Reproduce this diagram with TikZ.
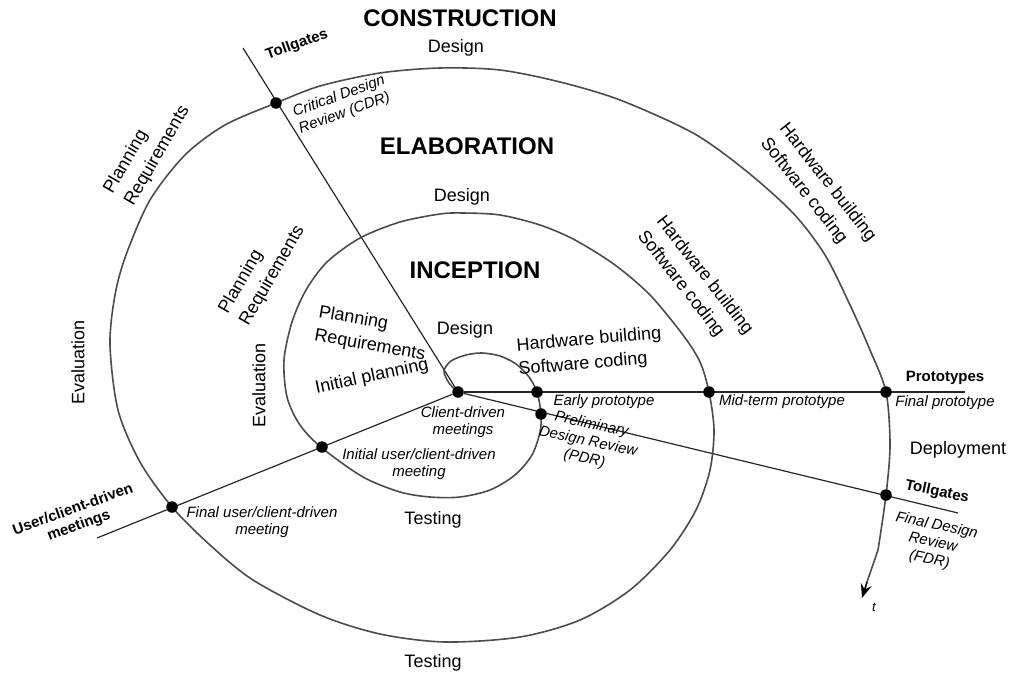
\documentclass[tikz,border=0pt]{standalone}
\usepackage{fontspec}
\setmainfont{Liberation Sans}
\usetikzlibrary{arrows.meta,backgrounds}
\tikzset{
  lab/.style={font=\fontsize{18}{24}\selectfont, inner sep=0pt},
  ttl/.style={font=\bfseries\fontsize{24}{28}\selectfont, inner sep=0pt},
  blab/.style={font=\bfseries\fontsize{15}{17}\selectfont, inner sep=0pt},
  ilab/.style={font=\itshape\fontsize{15}{17.5}\selectfont, inner sep=0pt},
  dot/.style={circle, fill=black, inner sep=0pt, minimum size=11.5pt},
  ln/.style={line width=1.2pt, black!85},
  sp/.style={line width=1.6pt, black!70},
}
\begin{document}
\begin{tikzpicture}[x=1pt,y=-1pt]
\useasboundingbox (0,0) rectangle (1011,677);
% dots
\node[dot] (c) at (458,392) {};
\node[dot] (cdr) at (276,103) {};
\node[dot] (ep) at (537,392) {};
\node[dot] (pdr) at (541,414) {};
\node[dot] (iu) at (322,447) {};
\node[dot] (mt) at (709,392) {};
\node[dot] (fu) at (172,507) {};
\node[dot] (fp) at (886,392) {};
\node[dot] (fdr) at (886,495) {};
\coordinate (tgA) at (243,48);
\coordinate (prE) at (965,392);
\coordinate (tgB) at (958,513);
\coordinate (ucE) at (97,538);
\coordinate (tend) at (862,598);
\begin{pgfonlayer}{background}
\draw[ln] (c) -- (tgA);
\draw[ln] (c) -- (prE);
\draw[ln] (c) -- (tgB);
\draw[ln] (c) -- (ucE);
\draw[sp] plot[smooth, tension=0.5] coordinates {
(458,392) (449,383) (444,371) (451,361) (466,355) (482,353) (500,356) (516,364) (529,377) (537,392)
(541,414) (540,432) (532,455) (515,475) (490,490) (460,497) (430,497) (400,492) (363,477) (322,448)
(300,425) (287,397) (284,360) (292,322) (306,290) (327,262) (360,238) (400,222) (440,214) (463,213)
(500,215) (540,225) (575,240) (615,265) (650,295) (683,335) (700,362) (709,392) (714,430) (710,470)
(696,510) (670,550) (630,590) (580,620) (520,637) (445,642) (380,634) (320,615) (253,580) (210,545)
(172,507) (140,462) (118,410) (110,345) (115,295) (126,255) (150,200) (185,155) (225,125) (276,103)
(320,86) (380,73) (440,68) (500,70) (560,82) (620,100) (693,133) (745,170) (793,213) (825,255)
(850,305) (870,350) (886,392) (890,445) (886,495) (878,550)};
\draw[sp] (878,550) .. controls (873,566) .. (867,582);
\draw[line width=1.6pt, black, -{Stealth[length=14pt,width=11pt,inset=5pt]}] (867,582) -- (tend);
\end{pgfonlayer}
% titles
\node[ttl] (tc) at (460,18) {CONSTRUCTION};
\node[ttl] (te) at (467,146) {ELABORATION};
\node[ttl] (ti) at (475,270) {INCEPTION};
% regular labels
\node[lab] (d2) at (456,48) {Design};
\node[lab] (d1) at (462,197) {Design};
\node[lab] (d0) at (465,330) {Design};
\node[lab, align=left, rotate=60] (pr2) at (147,150) {Planning\\Requirements};
\node[lab, align=left, rotate=60] (pr1) at (262,270) {Planning\\Requirements};
\node[lab, align=left, rotate=-10] (pr0) at (372,334) {Planning\\Requirements};
\node[lab, rotate=12] (ip) at (372,377) {Initial planning};
\node[lab, rotate=90] (ev2) at (78,362) {Evaluation};
\node[lab, rotate=90] (ev1) at (259,385) {Evaluation};
\node[lab, align=left, rotate=5] (hw0) at (590,352) {Hardware building\\Software coding};
\node[lab, align=left, rotate=-52] (hw1) at (695,283) {Hardware building\\Software coding};
\node[lab, align=left, rotate=-52] (hw2) at (818,190) {Hardware building\\Software coding};
\node[lab] (dep) at (958,450) {Deployment};
\node[lab] (ts1) at (433,520) {Testing};
\node[lab] (ts2) at (433,663) {Testing};
% bold small labels
\node[blab, rotate=20] (tga) at (297,45) {Tollgates};
\node[blab] (pro) at (945,378) {Prototypes};
\node[blab, rotate=-12] (tgb) at (937,492) {Tollgates};
\node[blab, align=center, rotate=20] (ucm) at (76,518) {User/client-driven\\meetings};
% italic labels
\node[ilab, align=left, rotate=20] (cdrl) at (342,105) {Critical Design\\Review (CDR)};
\node[ilab, align=center] (cdm) at (463,422) {Client-driven\\meetings};
\node[ilab] (epl) at (604,402) {Early prototype};
\node[ilab] (mtl) at (782,402) {Mid-term prototype};
\node[ilab] (fpl) at (945,403) {Final prototype};
\node[ilab, align=center, rotate=-12] (pdrl) at (588,442) {Preliminary\\Design Review\\(PDR)};
\node[ilab, align=center, rotate=-12] (fdrl) at (933,543) {Final Design\\Review\\(FDR)};
\node[ilab, align=center] (iul) at (419,464) {Initial user/client-driven\\meeting};
\node[ilab, align=center] (ful) at (262,522) {Final user/client-driven\\meeting};
\node[font=\itshape\fontsize{13}{15}\selectfont, inner sep=0pt] (tl) at (874,607) {t};
\end{tikzpicture}
\end{document}
